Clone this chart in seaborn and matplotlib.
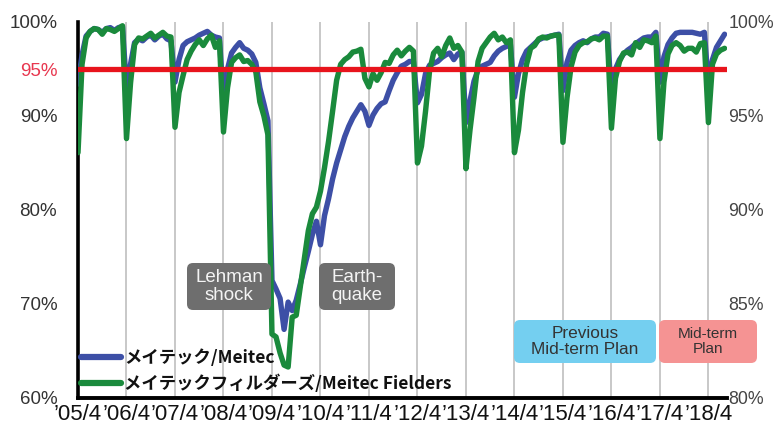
import numpy as np
import pandas as pd
import matplotlib
matplotlib.use("Agg")
import matplotlib.pyplot as plt
import seaborn as sns
from matplotlib.lines import Line2D
from matplotlib.patches import FancyBboxPatch
from matplotlib.font_manager import FontProperties

# ---------------- data (monthly, April 2005 .. August 2018) ----------------
meitec = [
    93.4, 96.5, 98.5, 99.0, 99.3, 99.2, 98.9, 99.3, 99.4, 99.1, 99.4, 99.5,   # FY2005
    93.0, 95.5, 97.8, 98.2, 98.0, 98.4, 98.6, 98.1, 98.5, 98.7, 98.2, 98.0,   # FY2006
    93.6, 96.0, 97.5, 97.9, 98.1, 98.3, 98.6, 98.8, 99.0, 98.6, 98.4, 98.3,   # FY2007
    91.5, 95.0, 96.7, 97.3, 97.8, 97.2, 97.0, 96.6, 95.7, 93.0, 91.3, 89.5,   # FY2008
    72.5, 71.6, 70.6, 67.3, 70.2, 69.3, 70.4, 72.1, 73.9, 75.6, 77.4, 78.8,   # FY2009
    76.3, 79.4, 81.2, 83.3, 85.0, 86.4, 87.8, 88.9, 89.8, 90.5, 91.2, 90.5,   # FY2010
    89.0, 90.1, 90.8, 91.3, 91.5, 92.7, 93.8, 94.6, 95.3, 95.5, 95.8, 95.8,   # FY2011
    91.4, 92.3, 94.5, 95.4, 95.6, 95.8, 96.2, 96.5, 96.7, 96.0, 96.6, 96.8,   # FY2012
    89.3, 91.6, 93.7, 94.9, 95.3, 95.5, 95.7, 96.4, 96.9, 97.2, 97.4, 97.6,   # FY2013
    92.0, 94.5, 96.0, 96.9, 97.3, 97.7, 98.1, 98.3, 98.4, 98.5, 98.6, 98.7,   # FY2014
    92.7, 95.7, 97.0, 97.5, 97.8, 98.0, 97.8, 98.2, 98.4, 98.4, 98.8, 98.7,   # FY2015
    92.5, 95.0, 96.0, 96.6, 97.0, 97.3, 97.7, 98.0, 98.3, 98.4, 98.4, 98.9,   # FY2016
    93.6, 96.3, 97.6, 98.3, 98.8, 98.9, 98.9, 98.9, 98.9, 98.8, 98.7, 98.9,   # FY2017
    93.3, 96.0, 97.3, 98.0, 98.7,                                             # FY2018
]
fielders = [
    86.1, 95.5, 98.3, 99.0, 99.3, 99.2, 98.7, 99.3, 99.2, 99.0, 99.3, 99.6,   # FY2005
    87.6, 93.5, 97.6, 98.3, 98.2, 98.5, 98.8, 98.3, 98.6, 98.9, 98.5, 98.4,   # FY2006
    88.8, 92.5, 94.3, 96.0, 96.9, 97.6, 98.1, 97.5, 98.2, 98.6, 97.3, 98.0,   # FY2007
    88.3, 93.0, 95.7, 96.2, 96.5, 95.8, 95.9, 95.5, 94.7, 91.5, 90.0, 88.0,   # FY2008
    66.8, 66.5, 64.8, 63.5, 63.3, 68.6, 68.8, 71.8, 74.8, 77.8, 79.6, 80.3,   # FY2009
    82.0, 84.5, 87.3, 90.5, 93.8, 95.5, 96.0, 96.3, 96.8, 96.9, 97.1, 94.0,   # FY2010
    93.1, 94.5, 93.8, 94.6, 95.7, 95.6, 96.5, 97.0, 96.4, 96.9, 97.3, 96.9,   # FY2011
    85.0, 86.8, 90.5, 94.8, 96.7, 97.2, 96.3, 97.5, 98.3, 97.2, 97.5, 96.8,   # FY2012
    84.4, 88.5, 92.0, 95.8, 97.2, 97.8, 98.4, 98.8, 98.1, 98.4, 97.8, 98.1,   # FY2013
    86.1, 88.5, 92.5, 95.5, 97.2, 97.5, 98.2, 98.4, 98.3, 98.5, 98.6, 98.6,   # FY2014
    87.2, 91.9, 95.2, 96.8, 97.5, 97.8, 97.9, 98.2, 98.3, 98.1, 98.5, 98.5,   # FY2015
    88.7, 94.0, 95.8, 96.7, 96.8, 96.5, 97.8, 97.3, 98.1, 98.0, 97.8, 98.5,   # FY2016
    87.6, 93.6, 96.6, 97.5, 97.8, 97.5, 96.9, 97.2, 97.2, 96.8, 97.7, 97.8,   # FY2017
    89.3, 95.5, 96.6, 97.0, 97.2,                                             # FY2018
]
series_names = ["メイテック/Meitec", "メイテックフィルダーズ/Meitec Fielders"]
year_labels = ["’05/4", "’06/4", "’07/4", "’08/4", "’09/4", "’10/4", "’11/4",
               "’12/4", "’13/4", "’14/4", "’15/4", "’16/4", "’17/4", "’18/4"]
left_ticks = [60, 70, 80, 90, 95, 100]
right_ticks = [80, 85, 90, 95, 100]
target = 95

months = np.arange(len(meitec))
df = pd.DataFrame({
    "month": np.concatenate([months, months]),
    "rate": meitec + fielders,
    "series": [series_names[0]] * len(meitec) + [series_names[1]] * len(fielders),
})

# ---------------- style ----------------
sns.set_style("white")
plt.rcParams["font.family"] = ["Liberation Sans", "DejaVu Sans"]

W, H = 774, 432
BLUE = "#3d4fa6"
GREEN = "#1a8a3c"
RED = "#e8141c"

fig = plt.figure(figsize=(W / 100, H / 100), dpi=100)
ax = fig.add_axes([78 / W, 34 / H, 649 / W, 376 / H])

sns.lineplot(data=df, x="month", y="rate", hue="series", hue_order=series_names,
             palette=[BLUE, GREEN], linewidth=3.9, legend=False, ax=ax, zorder=3)
for ln in ax.lines:
    ln.set_solid_joinstyle("round")
    ln.set_solid_capstyle("round")

ax.axhline(target, color=RED, linewidth=3.8, zorder=4)

ax.set_xlim(0, 160.6)
ax.set_ylim(60, 100)
ax.set_xlabel("")
ax.set_ylabel("")

ax.set_xticks(np.arange(0, 12 * len(year_labels), 12))
ax.set_xticklabels(year_labels, fontsize=16,
                   family=["Liberation Sans Narrow", "Liberation Sans", "DejaVu Sans"],
                   color="#111111")
ax.tick_params(axis="x", length=0, pad=4)
ax.grid(axis="x", color="#c4c4c4", linewidth=1.3)
ax.grid(axis="y", visible=False)

ax.set_yticks(left_ticks)
ax.set_yticklabels([f"{v}%" for v in left_ticks], fontsize=13.5)
for lab, v in zip(ax.get_yticklabels(), left_ticks):
    lab.set_color("#e8374f" if v == target else "#333333")
ax.tick_params(axis="y", length=0, pad=15)

for s in ["top", "right"]:
    ax.spines[s].set_visible(False)
ax.spines["left"].set_color("black")
ax.spines["left"].set_linewidth(2.6)
ax.spines["bottom"].set_color("black")
ax.spines["bottom"].set_linewidth(2.8)

ax2 = ax.twinx()
ax2.set_ylim(80, 100)
ax2.set_yticks(right_ticks)
ax2.set_yticklabels([f"{v}%" for v in right_ticks], fontsize=12.8, color="#444444")
ax2.tick_params(axis="y", length=0, pad=1)
for s in ax2.spines.values():
    s.set_visible(False)
ax2.grid(False)
for lab in ax2.get_yticklabels():
    lab.set_clip_on(False)

# legend
handles = [Line2D([0], [0], color=BLUE, lw=4.5), Line2D([0], [0], color=GREEN, lw=4.5)]
leg = ax.legend(handles, series_names, loc="lower left", bbox_to_anchor=(0.004, 0.012),
                frameon=False, prop=FontProperties(family=["Noto Sans CJK JP", "DejaVu Sans"],
                                                   size=12.5, weight="bold"),
                handlelength=2.3, handletextpad=0.2, labelspacing=0.45,
                borderpad=0, borderaxespad=0)
for t in leg.get_texts():
    t.set_color("#111111")


def tag(x0, y0, x1, y1, fc, txt, fs, tc):
    p = FancyBboxPatch((x0 / 100, (H - y1) / 100), (x1 - x0) / 100, (y1 - y0) / 100,
                       boxstyle="round,pad=0,rounding_size=0.06", fc=fc, ec="none",
                       transform=fig.dpi_scale_trans, zorder=10)
    fig.add_artist(p)
    fig.text((x0 + x1) / 2 / W, 1 - (y0 + y1) / 2 / H, txt, ha="center", va="center",
             fontsize=fs, color=tc, linespacing=1.1, zorder=11)


tag(187, 263, 271, 310, "#6e6e6e", "Lehman\nshock", 13.5, "#f4f4f4")
tag(319, 263, 395, 310, "#6e6e6e", "Earth-\nquake", 13.5, "#f4f4f4")
tag(514, 320, 656, 363, "#74cff0", "Previous\nMid-term Plan", 12.4, "#333333")
tag(659, 320, 757, 363, "#f59393", "Mid-term\nPlan", 11, "#333333")

fig.savefig("out.png", dpi=100)
